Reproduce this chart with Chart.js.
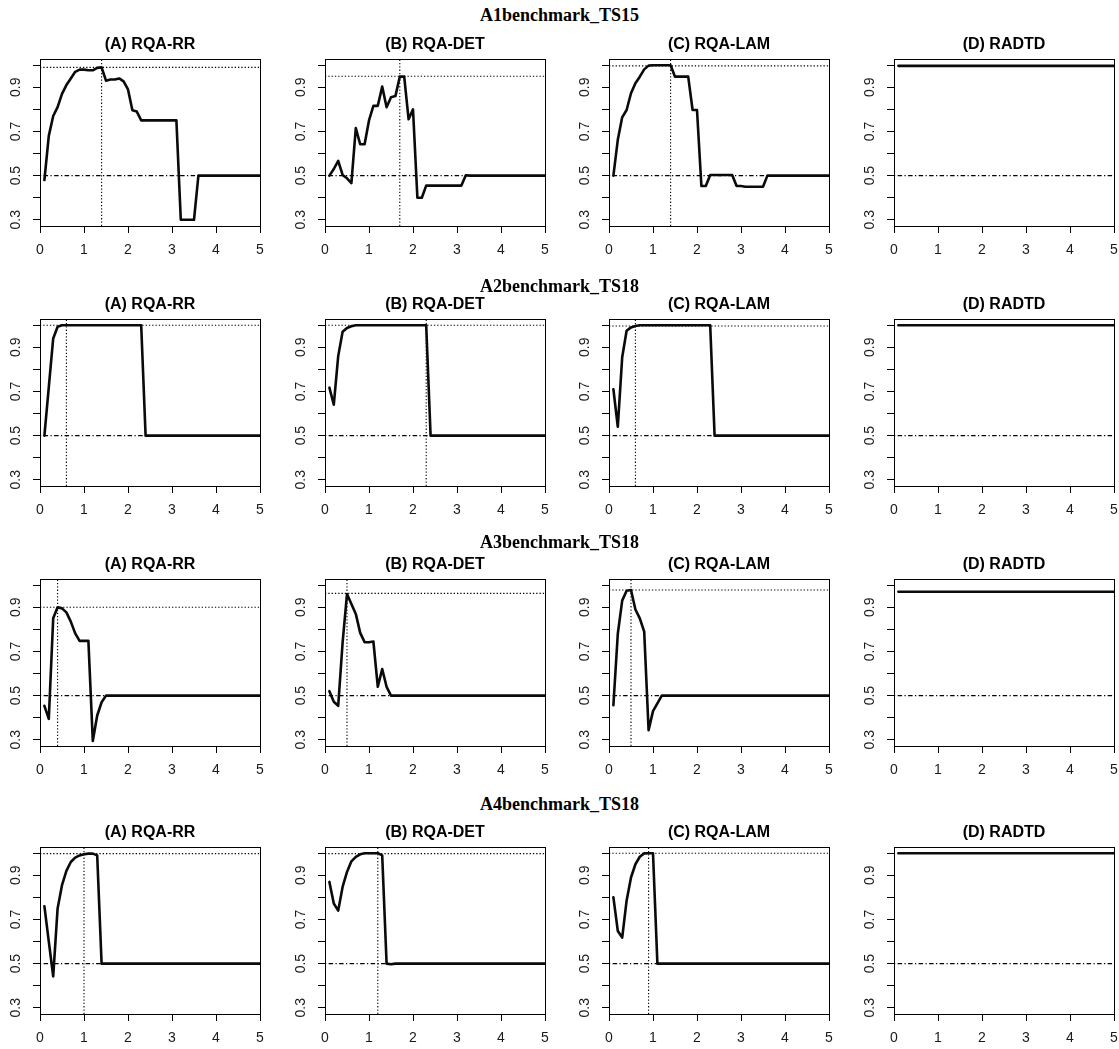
<!DOCTYPE html>
<html>
<head>
<meta charset="utf-8">
<script src="https://cdn.jsdelivr.net/npm/chart.js@4.4.1/dist/chart.umd.min.js"></script>
<style>
  html, body { margin: 0; padding: 0; background: #fff; }
  #wrap { position: relative; width: 1119px; height: 1049px; overflow: hidden; background: #fff; }
  .rowtitle { position: absolute; left: 0; width: 1119px; text-align: center;
    font: bold 18px "Liberation Serif", "Times New Roman", serif; line-height: 20px; color: #000; z-index: 2; }
</style>
</head>
<body>
<div id="wrap"></div>
<script>
// ---------------- DATA ----------------
const rowTitles = ['A1benchmark_TS15', 'A2benchmark_TS18', 'A3benchmark_TS18', 'A4benchmark_TS18'];
const panelTitles = ['(A) RQA-RR', '(B) RQA-DET', '(C) RQA-LAM', '(D) RADTD'];

const epsilon = [0.1,0.2,0.3,0.4,0.5,0.6,0.7,0.8,0.9,1.0,
                 1.1,1.2,1.3,1.4,1.5,1.6,1.7,1.8,1.9,2.0,
                 2.1,2.2,2.3,2.4,2.5,2.6,2.7,2.8,2.9,3.0,
                 3.1,3.2,3.3,3.4,3.5,3.6,3.7,3.8,3.9,4.0,
                 4.1,4.2,4.3,4.4,4.5,4.6,4.7,4.8,4.9,5.0];

const xTickValues = [0, 1, 2, 3, 4, 5];
const xTickLabels = ['0', '1', '2', '3', '4', '5'];
const yTickValues = [0.3, 0.4, 0.5, 0.6, 0.7, 0.8, 0.9, 1.0];
const yTickLabels = ['0.3', '', '0.5', '', '0.7', '', '0.9', ''];

// A1benchmark_TS15
const rrA1 = [0.48,0.68,0.77,0.81,0.87,0.91,0.94,0.97,0.98,0.98,
              0.977,0.977,0.988,0.99,0.93,0.935,0.935,0.94,0.927,0.89,
              0.796,0.79,0.75,0.75,0.75,0.75,0.75,0.75,0.75,0.75,
              0.75,0.30,0.30,0.30,0.30,0.50,0.50,0.50,0.50,0.50,
              0.50,0.50,0.50,0.50,0.50,0.50,0.50,0.50,0.50,0.50];
const detA1 = [0.50,0.53,0.567,0.503,0.488,0.466,0.715,0.642,0.642,0.75,
               0.816,0.816,0.903,0.81,0.855,0.86,0.948,0.948,0.755,0.80,
               0.40,0.40,0.455,0.455,0.455,0.455,0.455,0.455,0.455,0.455,
               0.455,0.502,0.50,0.50,0.50,0.50,0.50,0.50,0.50,0.50,
               0.50,0.50,0.50,0.50,0.50,0.50,0.50,0.50,0.50,0.50];
const lamA1 = [0.50,0.662,0.764,0.797,0.873,0.918,0.948,0.981,0.998,1.0,
               1.0,1.0,1.0,1.0,0.948,0.948,0.948,0.948,0.797,0.797,
               0.453,0.453,0.503,0.503,0.503,0.503,0.503,0.503,0.453,0.453,
               0.45,0.45,0.45,0.45,0.45,0.50,0.50,0.50,0.50,0.50,
               0.50,0.50,0.50,0.50,0.50,0.50,0.50,0.50,0.50,0.50];

// A2benchmark_TS18
const rrA2 = [0.50,0.72,0.94,0.993,1.0,1.0,1.0,1.0,1.0,1.0,
              1.0,1.0,1.0,1.0,1.0,1.0,1.0,1.0,1.0,1.0,
              1.0,1.0,1.0,0.50,0.50,0.50,0.50,0.50,0.50,0.50,
              0.50,0.50,0.50,0.50,0.50,0.50,0.50,0.50,0.50,0.50,
              0.50,0.50,0.50,0.50,0.50,0.50,0.50,0.50,0.50,0.50];
const detA2 = [0.717,0.64,0.86,0.97,0.987,0.995,1.0,1.0,1.0,1.0,
               1.0,1.0,1.0,1.0,1.0,1.0,1.0,1.0,1.0,1.0,
               1.0,1.0,1.0,0.50,0.50,0.50,0.50,0.50,0.50,0.50,
               0.50,0.50,0.50,0.50,0.50,0.50,0.50,0.50,0.50,0.50,
               0.50,0.50,0.50,0.50,0.50,0.50,0.50,0.50,0.50,0.50];
const lamA2 = [0.71,0.54,0.855,0.975,0.99,0.996,1.0,1.0,1.0,1.0,
               1.0,1.0,1.0,1.0,1.0,1.0,1.0,1.0,1.0,1.0,
               1.0,1.0,1.0,0.50,0.50,0.50,0.50,0.50,0.50,0.50,
               0.50,0.50,0.50,0.50,0.50,0.50,0.50,0.50,0.50,0.50,
               0.50,0.50,0.50,0.50,0.50,0.50,0.50,0.50,0.50,0.50];

// A3benchmark_TS18
const rrA3 = [0.454,0.395,0.85,0.90,0.895,0.877,0.835,0.782,0.748,0.748,
              0.748,0.295,0.41,0.47,0.50,0.50,0.50,0.50,0.50,0.50,
              0.50,0.50,0.50,0.50,0.50,0.50,0.50,0.50,0.50,0.50,
              0.50,0.50,0.50,0.50,0.50,0.50,0.50,0.50,0.50,0.50,
              0.50,0.50,0.50,0.50,0.50,0.50,0.50,0.50,0.50,0.50];
const detA3 = [0.52,0.472,0.454,0.74,0.96,0.915,0.87,0.784,0.742,0.742,
               0.745,0.54,0.62,0.54,0.50,0.50,0.50,0.50,0.50,0.50,
               0.50,0.50,0.50,0.50,0.50,0.50,0.50,0.50,0.50,0.50,
               0.50,0.50,0.50,0.50,0.50,0.50,0.50,0.50,0.50,0.50,
               0.50,0.50,0.50,0.50,0.50,0.50,0.50,0.50,0.50,0.50];
const lamA3 = [0.457,0.78,0.93,0.975,0.978,0.89,0.85,0.79,0.344,0.43,
               0.465,0.50,0.50,0.50,0.50,0.50,0.50,0.50,0.50,0.50,
               0.50,0.50,0.50,0.50,0.50,0.50,0.50,0.50,0.50,0.50,
               0.50,0.50,0.50,0.50,0.50,0.50,0.50,0.50,0.50,0.50,
               0.50,0.50,0.50,0.50,0.50,0.50,0.50,0.50,0.50,0.50];

// A4benchmark_TS18
const rrA4 = [0.76,0.60,0.442,0.75,0.855,0.92,0.96,0.98,0.99,0.995,
              0.998,0.998,0.99,0.50,0.50,0.50,0.50,0.50,0.50,0.50,
              0.50,0.50,0.50,0.50,0.50,0.50,0.50,0.50,0.50,0.50,
              0.50,0.50,0.50,0.50,0.50,0.50,0.50,0.50,0.50,0.50,
              0.50,0.50,0.50,0.50,0.50,0.50,0.50,0.50,0.50,0.50];
const detA4 = [0.87,0.772,0.74,0.847,0.915,0.963,0.983,0.995,1.0,1.0,
               1.0,1.0,0.99,0.50,0.497,0.50,0.50,0.50,0.50,0.50,
               0.50,0.50,0.50,0.50,0.50,0.50,0.50,0.50,0.50,0.50,
               0.50,0.50,0.50,0.50,0.50,0.50,0.50,0.50,0.50,0.50,
               0.50,0.50,0.50,0.50,0.50,0.50,0.50,0.50,0.50,0.50];
const lamA4 = [0.80,0.648,0.618,0.785,0.89,0.95,0.984,0.999,1.0,1.0,
               0.50,0.50,0.50,0.50,0.50,0.50,0.50,0.50,0.50,0.50,
               0.50,0.50,0.50,0.50,0.50,0.50,0.50,0.50,0.50,0.50,
               0.50,0.50,0.50,0.50,0.50,0.50,0.50,0.50,0.50,0.50,
               0.50,0.50,0.50,0.50,0.50,0.50,0.50,0.50,0.50,0.50];

// RADTD: constant over the whole epsilon range
const radtdEps = [0.1, 5.0];
const radtdValue = [0.997, 1.0, 0.97, 1.0];

// optimal epsilon / value reference lines (per row)
const optEpsRR  = [1.4, 0.6, 0.4, 1.0];
const optValRR  = [0.99, 1.0, 0.90, 0.998];
const optEpsDET = [1.7, 2.3, 0.5, 1.2];
const optValDET = [0.95, 1.0, 0.963, 0.998];
const optEpsLAM = [1.4, 0.6, 0.5, 0.9];
const optValLAM = [0.997, 0.996, 0.978, 1.0];
const chanceLevel = 0.5;

const rrRows  = [rrA1, rrA2, rrA3, rrA4];
const detRows = [detA1, detA2, detA3, detA4];
const lamRows = [lamA1, lamA2, lamA3, lamA4];

// ---------------- LAYOUT ----------------
const yMin = 0.272, yMax = 1.028, xMin = 0, xMax = 5;
const colLeft = [40, 325, 609, 894];
const rowTop = [59, 319, 579, 847];
const rowTitleTop = [5, 276, 532, 794];
const boxW = 220, boxH = 167;
const padL = 38, padT = 30, padR = 6, padB = 36;

Chart.defaults.font.family = '"Liberation Sans", Arial, sans-serif';
Chart.defaults.color = '#1a1a1a';

const wrap = document.getElementById('wrap');

rowTitles.forEach((t, r) => {
  const d = document.createElement('div');
  d.className = 'rowtitle';
  d.style.top = rowTitleTop[r] + 'px';
  d.textContent = t;
  wrap.appendChild(d);
});

const boxPlugin = {
  id: 'plotBox',
  afterDatasetsDraw(chart) {
    const a = chart.chartArea, ctx = chart.ctx;
    ctx.save();
    ctx.strokeStyle = '#000';
    ctx.lineWidth = 1;
    ctx.strokeRect(Math.round(a.left) + 0.5, Math.round(a.top) + 0.5,
                   Math.round(a.right - a.left), Math.round(a.bottom - a.top));
    ctx.restore();
  }
};

function refLine(points, dash) {
  return { data: points, borderColor: '#000', borderWidth: 1.1, borderDash: dash,
           pointRadius: 0, fill: false, tension: 0 };
}

function makePanel(r, c) {
  const W = boxW + padL + padR, H = boxH + padT + padB;
  const cv = document.createElement('canvas');
  cv.width = W; cv.height = H;
  cv.style.cssText = `position:absolute;left:${colLeft[c] - padL}px;top:${rowTop[r] - padT}px;width:${W}px;height:${H}px;z-index:1;`;
  wrap.appendChild(cv);

  const datasets = [];
  let series, optE = null, optV = null;
  if (c === 3) {
    series = radtdEps.map(e => ({ x: e, y: radtdValue[r] }));
  } else {
    const vals = [rrRows, detRows, lamRows][c][r];
    series = epsilon.map((e, i) => ({ x: e, y: vals[i] }));
    optE = [optEpsRR, optEpsDET, optEpsLAM][c][r];
    optV = [optValRR, optValDET, optValLAM][c][r];
  }
  datasets.push({ data: series, borderColor: '#0a0a0a', borderWidth: 2.6, pointRadius: 0,
                  tension: 0, fill: false, borderCapStyle: 'round', borderJoinStyle: 'round' });
  datasets.push(refLine([{ x: xMin, y: chanceLevel }, { x: xMax, y: chanceLevel }], [1.2, 2.4, 4.5, 2.4]));
  if (optE !== null) {
    datasets.push(refLine([{ x: xMin, y: optV }, { x: xMax, y: optV }], [1.3, 2]));
    datasets.push(refLine([{ x: optE, y: yMin }, { x: optE, y: yMax }], [1.3, 2]));
  }

  const gridOpts = { display: true, drawOnChartArea: false, drawTicks: true, tickLength: 7,
                     tickColor: '#000', tickWidth: 1 };
  const borderOpts = { display: true, color: '#000', width: 1 };
  const tickFont = { family: '"Liberation Sans", Arial, sans-serif', size: 14 };

  new Chart(cv, {
    type: 'line',
    data: { datasets },
    options: {
      responsive: false, animation: false, devicePixelRatio: 1, events: [],
      layout: { padding: { left: 0, top: 0, right: padR, bottom: 0 } },
      plugins: {
        legend: { display: false },
        tooltip: { enabled: false },
        title: { display: true, text: panelTitles[c], fullSize: false, color: '#000',
                 font: { family: '"Liberation Sans", Arial, sans-serif', size: 16, weight: 'bold' },
                 padding: { top: 6, bottom: 4.8 } }
      },
      scales: {
        x: {
          type: 'linear', min: xMin, max: xMax, bounds: 'data',
          afterBuildTicks: s => { s.ticks = xTickValues.map(v => ({ value: v })); },
          ticks: { callback: (v, i) => xTickLabels[i], font: tickFont, color: '#1a1a1a',
                   padding: 9, maxRotation: 0, minRotation: 0, autoSkip: false },
          grid: gridOpts, border: borderOpts,
          afterFit: s => { s.height = padB; s.paddingLeft = 0; s.paddingRight = 0; }
        },
        y: {
          type: 'linear', min: yMin, max: yMax, bounds: 'data',
          afterBuildTicks: s => { s.ticks = yTickValues.map(v => ({ value: v })); },
          ticks: { callback: (v, i) => yTickLabels[i], font: tickFont, color: '#1a1a1a',
                   padding: 7.5, minRotation: 90, maxRotation: 90, crossAlign: 'center', autoSkip: false },
          grid: gridOpts, border: borderOpts,
          afterFit: s => { s.width = padL; s.paddingTop = 0; s.paddingBottom = 0; }
        }
      }
    },
    plugins: [boxPlugin]
  });
}

for (let r = 0; r < 4; r++) for (let c = 0; c < 4; c++) makePanel(r, c);
</script>
</body>
</html>
